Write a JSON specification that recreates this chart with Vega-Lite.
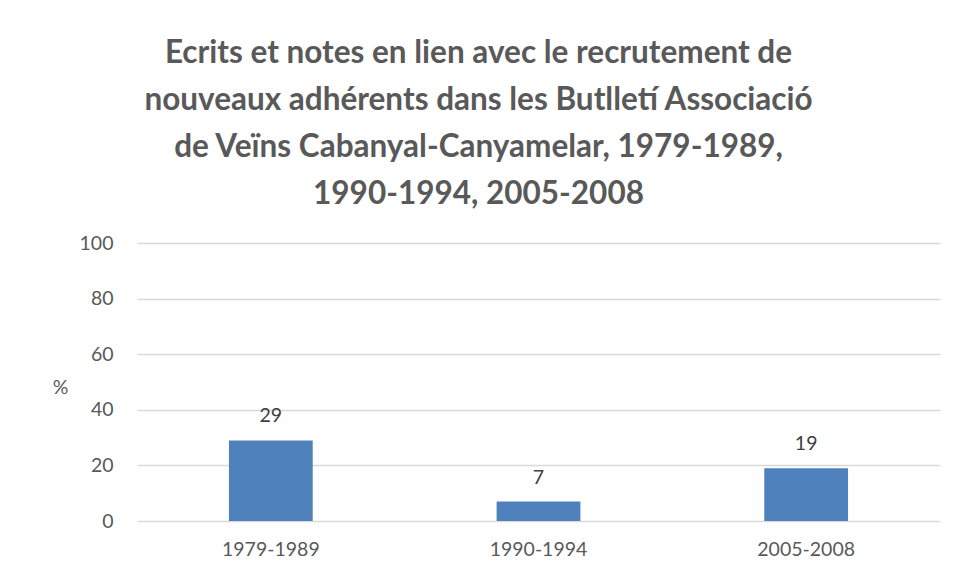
{
  "$schema": "https://vega.github.io/schema/vega-lite/v6.json",
  "autosize": {"type": "none"},
  "padding": {"left": 137, "top": 243, "right": 16, "bottom": 58},
  "width": 803,
  "height": 278,
  "background": "white",
  "config": {"view": {"stroke": null}},
  "title": {
    "text": ["Ecrits et notes en lien avec le recrutement de", "nouveaux adhérents dans les Butlletí Associació", "de Veïns Cabanyal-Canyamelar, 1979-1989,", "1990-1994, 2005-2008"],
    "font": "Lato",
    "fontSize": 31.5,
    "fontWeight": "bold",
    "color": "#595959",
    "anchor": "middle",
    "frame": "group",
    "dx": -60,
    "lineHeight": 47,
    "offset": 23
  },
  "data": {
    "values": [
      {"period": "1979-1989", "value": 29},
      {"period": "1990-1994", "value": 7},
      {"period": "2005-2008", "value": 19}
    ]
  },
  "encoding": {
    "x": {
      "field": "period",
      "type": "nominal",
      "sort": null,
      "scale": {"paddingInner": 0.687, "paddingOuter": 0.3435},
      "axis": {
        "title": null,
        "labelAngle": 0,
        "labelFont": "Lato",
        "labelFontSize": 19.5,
        "labelColor": "#595959",
        "labelPadding": 19,
        "ticks": false,
        "domain": false
      }
    },
    "y": {
      "field": "value",
      "type": "quantitative",
      "scale": {"domain": [0, 100]},
      "axis": {
        "title": "%",
        "titleAngle": 0,
        "titleFont": "Lato",
        "titleFontSize": 19.5,
        "titleFontWeight": "normal",
        "titleColor": "#595959",
        "titleAlign": "center",
        "titleBaseline": "middle",
        "titleX": -77,
        "titleY": 144,
        "values": [0, 20, 40, 60, 80, 100],
        "labelFont": "Lato",
        "labelFontSize": 19.5,
        "labelColor": "#595959",
        "labelPadding": 24,
        "ticks": false,
        "domain": false,
        "gridColor": "#d9d9d9",
        "gridWidth": 1.5
      }
    }
  },
  "layer": [
    {"mark": {"type": "bar", "color": "#4f81bd"}},
    {
      "mark": {"type": "text", "baseline": "bottom", "dy": -14, "font": "Lato", "fontSize": 19.5, "color": "#404040"},
      "encoding": {"text": {"field": "value", "type": "quantitative"}}
    }
  ]
}
